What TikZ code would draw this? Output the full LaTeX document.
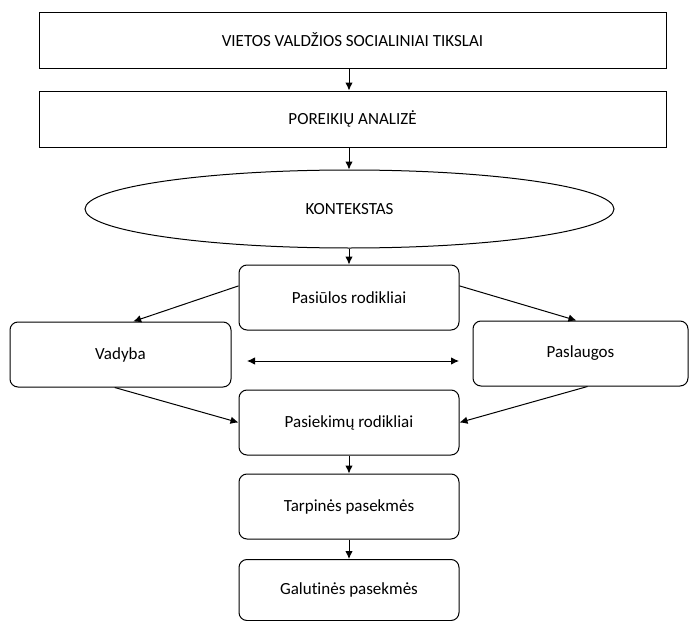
\documentclass[tikz,border=0pt]{standalone}
\usepackage{fontspec}
\setmainfont{Carlito}[Ligatures=NoCommon]
\usetikzlibrary{shapes.geometric,arrows.meta}
\tikzset{
  box/.style={draw, line width=1pt, rectangle, inner sep=0pt},
  rbox/.style={draw, line width=1pt, rectangle, rounded corners=8pt, inner sep=0pt,
    minimum width=220pt, minimum height=65pt},
  oval/.style={draw, line width=1pt, ellipse, inner sep=0pt},
  arr/.style={line width=1pt, -{Latex[length=8pt,width=7.5pt]}},
}
\begin{document}
\begin{tikzpicture}[x=1pt,y=-1pt,font=\fontsize{17}{20}\selectfont]
\useasboundingbox (0,0) rectangle (689,621);
\node[box, minimum width=627pt, minimum height=56pt] (tikslai) at (352.5,40) {VIETOS VALDŽIOS SOCIALINIAI TIKSLAI};
\node[box, minimum width=627pt, minimum height=56pt] (analize) at (352.5,119) {POREIKIŲ ANALIZĖ};
\node[oval, minimum width=529pt, minimum height=78pt] (kontekstas) at (349.5,209) {KONTEKSTAS};
\node[rbox] (pasiulos) at (349,297.5) {Pasiūlos rodikliai};
\node[rbox, minimum width=221pt] (vadyba) at (120.5,354.5) {Vadyba};
\node[rbox, minimum width=215pt] (paslaugos) at (580.5,353.5) {Paslaugos};
\node[rbox] (pasiekimai) at (349,422.5) {Pasiekimų rodikliai};
\node[rbox] (tarpines) at (349,506.5) {Tarpinės pasekmės};
\node[rbox, minimum height=61pt] (galutines) at (349,590) {Galutinės pasekmės};
\coordinate (kaire) at (247,361);
\coordinate (desine) at (459,361);
% rodykles
\draw[arr] (tikslai.south -| 349,0) -- (analize.north -| 349,0);
\draw[arr] (analize.south -| 349,0) -- (kontekstas.north -| 349,0);
\draw[arr] (kontekstas.south -| 349,0) -- (pasiulos.north);
\draw[arr] (pasiulos.174) -- (vadyba.69);
\draw[arr] (pasiulos.6) -- (paslaugos.97);
\draw[arr] (vadyba.260) -- (pasiekimai.west);
\draw[arr] (paslaugos.282) -- (pasiekimai.east);
\draw[arr, {Latex[length=8pt,width=7.5pt]}-{Latex[length=8pt,width=7.5pt]}] (kaire) -- (desine);
\draw[arr] (pasiekimai.south) -- (tarpines.north);
\draw[arr] (tarpines.south) -- (galutines.north);
\end{tikzpicture}
\end{document}
